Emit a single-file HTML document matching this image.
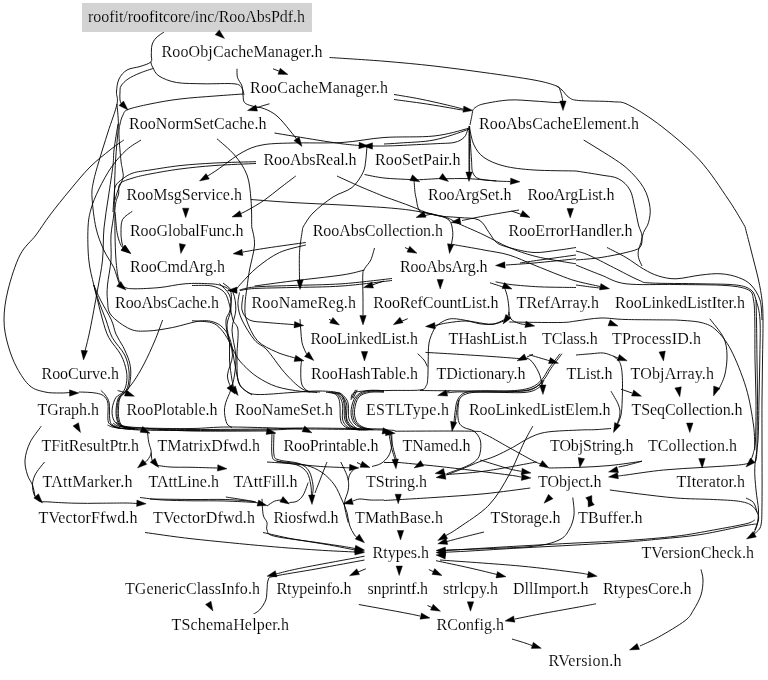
<!DOCTYPE html>
<html><head><meta charset="utf-8"><title>RooAbsPdf.h include graph</title>
<style>html,body{margin:0;padding:0;background:#fff}svg{display:block;will-change:transform}text{font-family:"Liberation Serif","DejaVu Serif",serif;font-size:16px;fill:#000;stroke:#fff;stroke-width:0.12px}.e{fill:none;stroke:#000;stroke-width:0.9}.a{fill:#000;stroke:#000;stroke-width:0.4}.n{fill:#fff;stroke:none}</style></head><body>
<svg width="768" height="680" viewBox="0 0 768 680">
<rect x="0" y="0" width="768" height="680" fill="#fff"/>
<g class="e">
<path d="M164.0,32.0C162.7,33.0 158.0,35.8 156.0,38.0C154.0,40.2 152.8,42.2 152.0,45.0C151.2,47.8 151.5,52.2 151.3,55.0C151.1,57.8 152.7,60.1 150.8,62.0C148.9,63.9 144.0,65.2 140.0,66.5C136.0,67.8 130.5,67.9 127.0,70.0C123.5,72.1 120.8,75.3 119.0,79.0C117.2,82.7 116.8,87.8 116.5,92.0C116.2,96.2 118.4,97.3 117.0,104.0C115.6,110.7 111.0,122.5 108.0,132.0C105.0,141.5 101.4,152.8 99.0,161.0C96.6,169.2 94.8,175.0 93.6,181.0C92.4,187.0 91.6,189.2 92.0,197.0C92.4,204.8 94.0,219.2 96.0,228.0C98.0,236.8 100.8,243.4 103.8,250.0C106.7,256.6 111.2,262.1 113.8,267.5C116.2,272.9 117.4,279.2 118.8,282.5C120.1,285.8 121.5,286.2 122.0,287.0"/>
<path d="M117.0,104.0C117.2,107.3 118.4,117.7 118.4,124.0C118.4,130.3 117.5,135.8 117.0,142.0C116.5,148.2 115.9,154.5 115.5,161.0C115.1,167.5 115.0,172.5 114.7,181.0C114.5,189.5 114.6,203.0 114.0,212.0C113.4,221.0 111.5,227.0 111.0,235.0C110.5,243.0 111.6,251.7 111.0,260.0C110.4,268.3 108.1,278.3 107.5,285.0C106.9,291.7 106.9,295.0 107.5,300.0C108.1,305.0 107.2,310.2 111.0,315.0C114.8,319.8 123.9,326.3 130.0,329.0C136.1,331.7 140.4,331.2 147.5,331.0C154.6,330.8 163.8,329.2 172.5,327.5C181.2,325.8 192.9,321.8 200.0,321.0C207.1,320.2 210.8,321.0 215.0,322.5C219.2,324.0 222.3,326.7 225.0,330.0C227.7,333.3 229.3,336.7 231.0,342.5C232.7,348.3 233.5,357.9 235.0,365.0C236.5,372.1 237.2,380.0 240.0,385.0C242.8,390.0 250.0,393.3 252.0,395.0"/>
<path d="M153.6,68.3C151.3,69.1 144.3,71.2 140.0,73.0C135.7,74.8 131.2,76.8 128.0,79.0C124.8,81.2 122.3,83.8 121.0,86.0C119.7,88.2 120.2,89.7 120.0,92.0C119.8,94.3 119.7,97.8 120.0,100.0C120.3,102.2 121.7,104.2 122.0,105.0"/>
<path d="M243.0,94.0C238.3,94.3 225.5,95.2 215.0,96.0C204.5,96.8 190.8,97.7 180.0,99.0C169.2,100.3 158.7,102.2 150.0,104.0C141.3,105.8 132.5,107.7 128.0,109.5C123.5,111.3 124.3,112.6 123.0,115.0C121.7,117.4 120.7,120.5 120.0,124.0C119.3,127.5 118.8,129.8 119.0,136.0C119.2,142.2 120.4,155.3 121.0,161.0C121.6,166.7 122.2,167.2 122.5,170.0C122.8,172.8 123.8,174.7 123.0,178.0C122.2,181.3 119.3,186.3 118.0,190.0C116.7,193.7 115.5,198.3 115.0,200.0"/>
<path d="M118.0,124.0C117.3,128.3 114.8,143.2 114.0,150.0C113.2,156.8 113.9,157.2 113.0,165.0C112.1,172.8 109.9,186.5 108.4,197.0C106.9,207.5 105.0,217.5 104.0,228.0C103.0,238.5 103.6,249.7 102.5,260.0C101.4,270.3 99.6,278.3 97.5,290.0C95.4,301.7 92.2,319.2 90.0,330.0C87.8,340.8 85.0,350.8 84.0,355.0"/>
<path d="M141.0,140.0C138.6,141.7 131.3,145.5 126.4,150.0C121.5,154.5 116.1,160.5 111.5,167.0C106.9,173.5 102.4,182.0 99.0,189.0C95.6,196.0 92.8,202.5 91.0,209.0C89.2,215.5 88.4,219.5 88.0,228.0C87.6,236.5 87.8,250.5 88.8,260.0C89.7,269.5 92.2,278.0 93.8,285.0C95.3,292.0 96.5,296.2 98.0,302.0C99.5,307.8 100.8,314.1 102.6,320.0C104.4,325.9 105.7,331.8 108.8,337.6C111.9,343.4 118.1,349.4 121.0,355.0C123.9,360.6 125.5,366.2 126.4,371.0C127.3,375.8 127.0,380.0 126.4,383.5C125.8,387.0 124.8,389.6 123.0,392.0C121.2,394.4 117.7,394.9 115.9,397.6C114.1,400.3 112.8,404.5 112.3,408.0C111.8,411.5 112.0,415.8 113.2,418.8C114.4,421.8 116.6,424.2 119.4,425.8C122.2,427.4 128.2,428.1 130.0,428.5"/>
<path d="M93.8,285.0C94.6,287.8 97.0,296.2 99.0,302.0C101.0,307.8 103.8,314.1 106.0,320.0C108.2,325.9 109.2,331.8 112.3,337.6C115.4,343.4 121.9,349.4 124.7,355.0C127.5,360.6 128.4,366.0 129.0,371.0C129.6,376.0 128.9,381.5 128.2,385.0C127.5,388.5 126.3,389.9 124.7,392.0C123.1,394.1 119.9,394.9 118.5,397.6C117.1,400.3 116.5,404.5 116.2,408.0C115.9,411.5 115.9,415.8 116.7,418.8C117.5,421.8 118.0,424.1 121.0,425.8C124.0,427.5 132.7,428.5 135.0,429.0"/>
<path d="M93.8,285.0C94.9,287.5 97.6,294.2 100.5,300.0C103.4,305.8 108.8,314.3 111.4,320.0C114.0,325.7 114.0,329.6 115.9,334.0C117.8,338.4 120.8,342.1 123.0,346.5C125.2,350.9 127.7,356.2 129.0,360.6C130.3,365.0 130.8,368.6 130.8,373.0C130.8,377.4 129.9,383.8 129.0,387.0C128.1,390.2 127.0,390.2 125.5,392.0C124.0,393.8 121.2,395.3 120.0,398.0C118.8,400.7 118.7,404.5 118.5,408.0C118.3,411.5 118.2,416.0 119.0,419.0C119.8,422.0 119.8,424.2 123.0,426.0C126.2,427.8 135.5,428.9 138.0,429.5"/>
<path d="M123.8,140.0C121.5,141.7 115.6,145.5 110.0,150.0C104.4,154.5 96.7,160.3 90.0,167.0C83.3,173.7 76.7,182.0 70.0,190.0C63.3,198.0 55.7,207.5 50.0,215.0C44.3,222.5 41.0,228.3 36.0,235.0C31.0,241.7 24.7,245.8 20.0,255.0C15.3,264.2 10.7,279.2 8.0,290.0C5.3,300.8 4.0,310.8 4.0,320.0C4.0,329.2 5.8,337.0 8.0,345.0C10.2,353.0 13.3,361.2 17.0,368.0C20.7,374.8 25.3,382.0 30.0,386.0C34.7,390.0 40.0,390.8 45.0,392.0C50.0,393.2 55.8,392.9 60.0,393.0C64.2,393.1 68.3,392.6 70.0,392.5"/>
<path d="M256.0,161.7C249.2,161.9 227.7,162.3 215.0,163.0C202.3,163.7 190.8,164.4 180.0,165.6C169.2,166.8 157.8,168.8 150.0,170.0C142.2,171.2 137.6,171.5 133.0,173.0C128.4,174.5 125.4,176.8 122.5,179.0C119.6,181.2 116.9,183.0 115.5,186.0C114.1,189.0 114.4,192.7 114.0,197.0C113.6,201.3 113.2,209.5 113.0,212.0"/>
<path d="M256.0,163.5C249.2,163.8 227.7,164.6 215.0,165.5C202.3,166.4 190.8,167.6 180.0,169.0C169.2,170.4 157.8,172.5 150.0,174.0C142.2,175.5 138.0,176.4 133.0,178.0C128.0,179.6 122.4,180.9 120.0,183.6C117.6,186.3 119.3,191.0 118.6,194.0C117.9,197.0 116.7,198.4 116.0,201.5C115.3,204.6 114.8,210.2 114.7,212.5C114.6,214.8 114.9,211.7 115.3,215.0C115.7,218.3 116.2,227.6 117.0,232.4C117.8,237.2 119.2,241.1 120.2,243.7C121.2,246.3 122.5,247.3 123.0,248.0"/>
<path d="M132.3,211.3C130.7,212.7 124.5,215.9 122.6,219.4C120.7,222.9 121.1,228.6 121.0,232.4C120.9,236.2 121.4,239.4 121.8,242.0C122.2,244.6 123.2,247.0 123.5,248.0"/>
<path d="M115.0,212.0C115.0,215.8 114.8,227.0 115.0,235.0C115.2,243.0 115.4,252.5 116.0,260.0C116.6,267.5 117.4,275.5 118.8,280.0C120.1,284.5 121.3,285.5 124.0,287.0C126.7,288.5 129.0,288.7 135.0,288.8C141.0,288.8 151.7,288.3 160.0,287.5C168.3,286.7 176.7,284.4 185.0,283.8C193.3,283.1 203.8,283.4 210.0,283.8C216.2,284.1 219.0,284.5 222.5,286.0C226.0,287.5 229.8,288.5 231.0,292.5C232.2,296.5 230.8,305.4 230.0,310.0C229.2,314.6 226.4,315.8 226.0,320.0C225.6,324.2 226.4,329.2 227.5,335.0C228.6,340.8 232.5,348.3 232.5,355.0C232.5,361.7 227.8,369.5 227.5,375.0C227.2,380.5 230.4,385.8 231.0,388.0"/>
<path d="M162.6,320.0C161.3,323.5 157.8,333.7 154.7,341.0C151.6,348.3 147.5,357.2 144.0,364.0C140.5,370.8 136.7,377.0 133.5,381.7C130.3,386.4 127.0,389.6 124.7,392.3C122.4,395.0 120.8,395.0 119.5,397.6C118.2,400.2 117.5,404.5 117.2,408.0C116.9,411.5 116.9,415.8 117.7,418.8C118.5,421.8 119.1,424.1 122.0,425.8C124.9,427.5 132.8,428.5 135.0,429.0"/>
<path d="M117.6,390.5C118.5,390.8 121.4,391.5 123.0,392.0C124.6,392.5 126.3,393.2 127.0,393.5"/>
<path d="M79.0,392.0C80.4,392.1 84.7,392.1 87.6,392.3C90.5,392.5 93.8,392.6 96.5,393.2C99.2,393.8 101.6,394.2 103.5,395.8C105.4,397.4 107.2,399.2 107.9,403.0C108.6,406.8 107.6,415.3 107.9,418.8C108.2,422.3 108.1,422.5 109.7,424.0C111.3,425.5 114.2,426.8 117.6,427.6C121.0,428.4 127.9,428.8 130.0,429.0"/>
<path d="M100.9,390.5C101.6,391.2 103.9,392.9 105.3,395.0C106.7,397.1 108.5,399.0 109.2,403.0C109.9,407.0 109.2,415.2 109.7,418.8C110.2,422.4 110.3,423.0 112.0,424.5C113.7,426.0 118.7,427.4 120.0,428.0"/>
<path d="M273.0,68.8L280.0,71.5"/>
<path d="M329.5,57.5C338.6,58.1 366.6,59.8 384.0,61.2C401.4,62.7 417.3,64.1 434.0,66.0C450.7,67.9 467.3,70.2 484.0,72.5C500.7,74.8 521.9,77.8 534.0,80.0C546.1,82.2 552.2,84.3 556.5,86.0C560.8,87.7 559.1,88.2 560.0,90.0C560.9,91.8 561.5,95.0 562.0,97.0C562.5,99.0 562.8,101.2 563.0,102.0"/>
<path d="M556.5,86.0C557.4,86.7 559.9,88.1 562.0,90.0C564.1,91.9 566.2,95.8 569.0,97.5C571.8,99.2 571.5,99.8 578.7,100.5C585.9,101.2 603.7,101.0 612.0,101.7C620.3,102.5 620.4,100.8 628.7,105.0C637.0,109.2 650.2,117.5 662.0,126.7C673.8,135.9 688.4,147.8 699.5,160.0C710.6,172.2 721.1,188.9 728.7,200.0C736.3,211.1 742.3,222.2 745.0,226.7"/>
<path d="M237.0,68.8C237.1,70.2 236.7,74.6 237.5,77.5C238.3,80.4 241.1,83.1 242.0,86.0C242.9,88.9 242.6,92.2 243.0,95.0C243.4,97.8 243.0,100.7 244.5,102.5C246.0,104.3 248.7,105.0 252.0,106.0C255.3,107.0 260.3,107.1 264.5,108.8C268.7,110.4 272.8,112.5 277.0,116.0C281.2,119.5 286.0,125.8 289.5,130.0C293.0,134.2 296.6,139.2 298.0,141.0"/>
<path d="M150.8,62.0C151.1,62.9 151.4,65.2 152.8,67.5C154.1,69.8 155.0,73.5 159.0,76.0C163.0,78.5 169.0,81.2 176.5,82.5C184.0,83.8 194.4,83.5 204.0,83.8C213.6,84.0 227.8,83.1 234.0,83.8C240.2,84.4 239.8,85.6 241.5,87.5C243.2,89.4 243.6,93.8 244.0,95.0"/>
<path d="M269.5,103.8C268.2,104.1 264.2,105.3 262.0,106.0C259.8,106.7 257.0,107.7 256.0,108.0"/>
<path d="M274.5,133.0C281.6,134.2 305.8,138.2 317.0,140.0C328.2,141.8 335.0,142.8 342.0,143.8C349.0,144.7 356.2,145.2 359.0,145.5"/>
<path d="M469.0,126.0C468.6,126.5 472.3,127.1 466.5,128.8C460.7,130.4 447.8,134.5 434.0,136.0C420.2,137.5 399.3,136.4 384.0,137.5C368.7,138.6 357.3,141.6 342.0,142.5C326.7,143.4 305.3,142.6 292.0,143.0C278.7,143.4 270.3,143.4 262.0,145.0C253.7,146.6 249.5,148.3 242.0,152.5C234.5,156.7 223.0,165.9 217.0,170.0C211.0,174.1 207.8,175.8 206.0,177.0"/>
<path d="M469.0,127.0C468.6,127.5 472.3,127.8 466.5,130.0C460.7,132.2 445.1,137.8 434.0,140.0C422.9,142.2 408.3,142.3 400.0,143.0C391.7,143.7 386.7,143.8 384.0,144.0"/>
<path d="M469.0,128.0C468.8,128.3 468.6,128.4 467.8,130.0C466.9,131.6 466.3,135.4 464.0,137.5C461.7,139.6 459.0,141.5 454.0,142.5C449.0,143.5 443.0,143.2 434.0,143.8C425.0,144.2 408.3,145.1 400.0,145.5C391.7,145.9 388.7,145.9 384.0,146.0C379.3,146.1 374.0,146.0 372.0,146.0"/>
<path d="M217.0,138.8C219.9,141.5 229.5,149.0 234.5,155.0C239.5,161.0 244.2,167.5 247.0,175.0C249.8,182.5 250.2,191.4 251.0,200.0C251.8,208.6 251.6,222.2 251.7,226.7"/>
<path d="M295.8,176.0C293.1,178.0 285.2,184.0 280.0,188.0C274.8,192.0 269.8,196.3 264.5,200.0C259.2,203.7 252.1,207.7 248.0,210.0C243.9,212.3 241.3,213.3 240.0,214.0"/>
<path d="M337.0,176.0C340.8,177.8 352.2,183.1 360.0,186.5C367.8,189.9 380.0,194.8 384.0,196.5"/>
<path d="M367.0,145.5C366.8,147.9 366.4,155.5 365.8,160.0C365.1,164.5 365.3,167.9 363.0,172.5C360.7,177.1 357.0,183.4 352.0,187.5C347.0,191.6 339.5,192.8 333.0,197.0C326.5,201.2 318.0,208.0 313.0,213.0C308.0,218.0 304.7,224.7 303.0,227.0"/>
<path d="M364.5,174.5C367.8,175.1 376.6,177.2 384.0,178.0C391.4,178.8 404.0,179.2 409.0,179.5C414.0,179.8 408.7,180.2 414.0,180.0C419.3,179.8 435.3,178.7 441.0,178.5C446.7,178.3 443.3,178.7 448.0,178.7C452.7,178.7 460.9,178.3 469.0,178.7C477.1,179.1 489.7,180.5 496.5,181.0C503.3,181.5 507.8,181.4 510.0,181.5"/>
<path d="M414.0,180.0C414.2,182.1 414.6,189.2 415.0,192.5C415.4,195.8 416.1,197.6 416.5,200.0C416.9,202.4 417.1,204.7 417.7,206.7C418.3,208.7 419.6,211.1 420.0,212.0"/>
<path d="M394.0,94.5C398.3,95.2 411.5,97.3 420.0,99.0C428.5,100.7 437.8,102.8 445.0,104.5C452.2,106.2 460.0,108.2 463.0,109.0"/>
<path d="M394.0,99.5C398.3,100.1 411.5,101.8 420.0,103.0C428.5,104.2 438.5,105.9 445.0,107.0C451.5,108.1 456.0,109.0 459.0,109.5C462.0,110.0 462.3,109.9 463.0,110.0"/>
<path d="M472.8,110.0C473.3,109.5 474.1,108.0 476.0,107.0C477.9,106.0 478.5,104.9 484.0,103.8C489.5,102.6 500.7,100.5 509.0,100.0C517.3,99.5 526.5,100.6 534.0,101.0C541.5,101.4 549.2,102.2 554.0,102.5C558.8,102.8 561.5,102.5 563.0,102.5"/>
<path d="M472.8,110.5C472.5,111.7 472.0,115.1 471.5,117.5C471.0,119.9 470.2,123.8 470.0,125.0"/>
<path d="M469.0,126.0C469.0,130.0 469.0,142.3 469.0,150.0C469.0,157.7 469.0,168.3 469.0,172.0"/>
<path d="M469.6,126.0C469.6,130.0 469.6,142.3 469.6,150.0C469.6,157.7 469.6,168.3 469.6,172.0"/>
<path d="M469.5,128.0C469.8,133.3 471.0,152.6 471.5,160.0C472.0,167.4 471.5,169.4 472.8,172.5C474.0,175.6 475.0,177.3 479.0,178.8C483.0,180.2 493.6,180.6 496.5,181.0"/>
<path d="M469.5,128.0C470.2,130.8 471.6,140.1 474.0,145.0C476.4,149.9 479.0,154.0 484.0,157.5C489.0,161.0 495.7,163.9 504.0,166.0C512.3,168.1 522.0,169.2 534.0,170.0C546.0,170.8 569.0,170.8 576.0,171.0"/>
<path d="M583.7,140.0L600.0,150.0"/>
<path d="M384.0,196.5C388.2,198.0 400.7,202.4 409.0,205.5C417.3,208.6 425.7,213.0 434.0,215.0C442.3,217.0 451.5,216.7 459.0,217.5C466.5,218.3 474.0,217.5 479.0,220.0C484.0,222.5 486.1,228.8 489.0,232.5C491.9,236.2 493.2,240.0 496.5,242.5C499.8,245.0 502.8,245.8 509.0,247.5C515.2,249.2 525.7,252.1 534.0,252.5C542.3,252.9 552.0,250.8 559.0,250.0C566.0,249.2 573.2,247.9 576.0,247.5"/>
<path d="M384.0,207.5C388.2,207.9 400.7,208.8 409.0,210.0C417.3,211.2 427.8,213.2 434.0,214.5C440.2,215.8 442.3,216.0 446.5,217.5C450.7,219.0 452.8,220.8 459.0,223.8C465.2,226.7 475.7,231.0 484.0,235.0C492.3,239.0 500.7,244.0 509.0,247.5C517.3,251.0 525.7,253.8 534.0,256.0C542.3,258.2 552.0,259.7 559.0,261.0C566.0,262.3 573.2,263.3 576.0,263.8"/>
<path d="M519.0,210.0C513.2,211.0 493.5,214.2 484.0,216.0C474.5,217.8 465.7,219.8 462.0,220.5"/>
<path d="M511.5,211.0L521.5,214.5"/>
<path d="M420.0,212.0C420.7,212.1 421.7,212.1 424.0,212.5C426.3,212.9 429.8,213.2 434.0,214.5C438.2,215.8 445.9,217.0 449.0,220.0C452.1,223.0 452.3,228.5 452.8,232.5C453.2,236.5 451.7,242.1 451.5,244.0"/>
<path d="M432.0,214.0L425.0,215.5"/>
<path d="M452.8,244.5C458.0,245.4 474.6,248.2 484.0,250.0C493.4,251.8 500.7,252.5 509.0,255.0C517.3,257.5 525.7,261.7 534.0,265.0C542.3,268.3 552.0,272.3 559.0,275.0C566.0,277.7 569.2,279.1 576.0,281.0C582.8,282.9 596.0,285.6 600.0,286.5"/>
<path d="M576.0,258.8C569.0,259.5 545.7,262.0 534.0,263.0C522.3,264.0 510.7,264.7 506.0,265.0"/>
<path d="M576.0,255.0C570.0,255.8 549.3,258.7 540.0,260.0C530.7,261.3 523.3,262.5 520.0,263.0"/>
<path d="M405.0,247.5L409.0,249.5"/>
<path d="M490.0,282.8C491.4,283.2 496.2,284.8 498.4,285.5C500.6,286.2 502.2,286.8 503.0,287.0"/>
<path d="M495.6,281.8C498.2,282.3 503.9,283.8 511.0,284.6C518.1,285.4 530.3,286.4 538.5,286.8C546.7,287.2 553.8,287.2 560.0,287.3C566.2,287.4 573.3,287.5 576.0,287.5"/>
<path d="M504.8,288.2C505.2,289.7 506.8,293.7 507.5,297.3C508.2,300.9 508.9,306.9 509.0,310.0C509.1,313.1 508.2,315.0 508.0,316.0"/>
<path d="M509.0,312.0C509.3,313.2 509.4,317.1 511.0,319.0C512.6,320.9 516.1,322.3 518.4,323.2C520.7,324.1 523.9,324.3 525.0,324.5"/>
<path d="M509.3,322.0C517.8,322.1 548.9,322.7 560.0,322.5C571.1,322.3 569.2,321.8 576.0,321.0C582.8,320.2 592.7,318.2 601.0,318.0C609.3,317.8 613.5,319.2 626.0,319.5C638.5,319.8 667.7,319.9 676.0,320.0"/>
<path d="M507.5,319.0C506.9,319.3 506.2,320.1 503.8,321.0C501.4,321.9 497.0,323.8 493.0,324.3C489.0,324.8 484.6,324.4 480.0,323.8C475.4,323.2 471.1,321.1 465.6,321.0C460.2,320.9 452.4,322.1 447.3,322.9C442.2,323.6 437.1,325.1 435.0,325.5"/>
<path d="M507.5,318.0C505.1,319.0 498.5,323.3 493.0,324.0C487.5,324.7 480.8,322.9 474.7,322.0C468.6,321.1 461.1,319.3 456.5,318.9C451.9,318.5 450.1,318.6 447.0,319.6C443.9,320.6 440.2,323.0 438.0,324.7C435.8,326.4 435.2,326.9 433.7,330.0C432.2,333.1 429.9,337.8 429.0,343.0C428.1,348.2 428.4,354.9 428.2,361.0C428.0,367.1 428.1,375.2 427.7,379.4C427.3,383.6 427.3,384.2 426.0,386.0C424.7,387.8 426.2,389.2 420.0,390.0C413.8,390.8 399.7,390.2 389.0,390.5C378.3,390.8 362.3,390.4 356.0,392.0C349.7,393.6 351.8,398.7 351.0,400.0"/>
<path d="M417.7,353.7C418.8,354.8 422.4,357.9 424.0,360.0C425.6,362.1 426.8,365.5 427.3,366.6"/>
<path d="M425.5,352.4C430.7,352.7 445.2,353.5 456.5,354.2C467.8,354.9 483.0,355.9 493.0,356.6C503.0,357.3 510.5,357.9 516.6,358.4C522.7,358.8 525.8,357.0 529.4,359.3C533.0,361.6 536.4,367.9 538.5,372.0C540.6,376.1 541.4,382.0 542.0,384.0"/>
<path d="M533.0,354.2L527.0,357.0"/>
<path d="M529.4,354.8C532.4,355.7 544.2,359.2 547.6,360.2C551.0,361.2 549.6,360.9 550.0,361.0"/>
<path d="M562.0,353.7C560.2,356.1 554.0,364.1 551.0,368.4C548.0,372.7 547.0,376.0 544.0,379.4C541.0,382.8 538.5,386.4 533.0,388.5C527.5,390.6 520.7,391.2 511.0,391.8C501.3,392.4 483.9,392.0 474.7,392.0C465.5,392.0 460.6,391.8 456.0,392.0C451.4,392.2 448.5,392.8 447.0,393.0"/>
<path d="M560.0,353.7C558.2,356.1 552.0,364.1 549.0,368.4C546.0,372.7 545.0,376.2 542.0,379.4C539.0,382.6 536.2,385.6 531.0,387.5C525.8,389.4 520.4,390.2 511.0,390.8C501.6,391.4 489.9,391.1 474.7,391.0C459.5,390.9 429.1,390.6 420.0,390.5"/>
<path d="M745.0,226.7C746.0,230.6 748.8,241.1 751.0,250.0C753.2,258.9 756.7,271.7 758.5,280.0C760.3,288.3 761.2,293.3 762.0,300.0C762.8,306.7 762.9,310.0 763.0,320.0C763.1,330.0 762.7,346.7 762.5,360.0C762.3,373.3 762.1,386.7 762.0,400.0C761.9,413.3 762.0,422.9 762.0,440.0C762.0,457.1 762.2,488.3 762.0,502.5C761.8,516.7 762.0,520.0 761.0,525.0C760.0,530.0 757.5,530.7 756.0,532.5C754.5,534.3 752.7,535.4 752.0,536.0"/>
<path d="M576.0,171.0C580.2,171.7 593.9,173.7 601.0,175.0C608.1,176.3 613.7,176.2 618.5,178.8C623.3,181.2 627.3,185.2 630.0,190.0C632.7,194.8 633.3,201.7 634.8,207.5C636.2,213.3 637.3,220.2 638.5,225.0C639.7,229.8 641.8,232.2 642.0,236.0C642.2,239.8 642.4,244.8 639.8,247.5C637.1,250.2 632.5,250.8 626.0,252.5C619.5,254.2 609.3,256.2 601.0,257.5C592.7,258.8 580.2,259.6 576.0,260.0"/>
<path d="M600.0,150.0C604.3,152.9 618.8,161.2 626.0,167.5C633.2,173.8 639.5,180.8 643.5,187.5C647.5,194.2 649.2,201.7 650.0,207.5C650.8,213.3 649.6,218.3 648.5,222.5C647.4,226.7 644.8,229.2 643.5,232.5C642.2,235.8 641.8,239.6 641.0,242.5C640.2,245.4 638.9,247.5 638.5,250.0C638.1,252.5 637.9,254.8 638.5,257.5C639.1,260.2 641.4,264.6 642.0,266.0"/>
<path d="M607.0,247.5C610.2,249.2 619.9,253.9 626.0,257.5C632.1,261.1 638.1,265.9 643.5,269.0C648.9,272.1 653.1,274.4 658.5,276.0C663.9,277.6 668.9,278.9 676.0,278.8C683.1,278.6 693.5,275.8 701.0,275.0C708.5,274.2 714.8,273.3 721.0,273.8C727.2,274.2 733.5,275.6 738.5,277.5C743.5,279.4 747.4,281.2 751.0,285.0C754.6,288.8 758.2,294.2 760.0,300.0C761.8,305.8 761.7,316.7 762.0,320.0"/>
<path d="M576.0,251.0C578.1,251.7 582.2,252.2 588.5,255.0C594.8,257.8 605.2,263.3 613.5,267.5C621.8,271.7 632.2,277.4 638.5,280.0C644.8,282.6 640.6,282.4 651.0,283.0C661.4,283.6 686.8,283.4 701.0,283.8C715.2,284.1 727.7,284.0 736.0,285.0C744.3,286.0 747.7,287.5 751.0,290.0C754.3,292.5 754.5,295.0 756.0,300.0C757.5,305.0 759.4,310.0 760.0,320.0C760.6,330.0 759.9,346.7 759.8,360.0C759.6,373.3 759.3,386.7 759.0,400.0C758.7,413.3 758.7,428.8 758.0,440.0C757.3,451.2 755.1,459.2 754.8,467.5C754.4,475.8 755.4,482.9 756.0,490.0C756.6,497.1 758.3,504.2 758.5,510.0C758.7,515.8 757.8,521.0 757.0,525.0C756.2,529.0 754.1,532.3 753.5,533.8"/>
<path d="M576.0,265.0C580.2,266.7 592.7,271.9 601.0,275.0C609.3,278.1 613.5,282.2 626.0,283.8C638.5,285.3 659.3,284.2 676.0,284.5C692.7,284.8 713.9,284.6 726.0,285.5C738.1,286.4 743.9,287.6 748.5,290.0C753.1,292.4 752.5,295.0 753.5,300.0C754.5,305.0 754.5,310.0 754.8,320.0C755.0,330.0 754.8,346.7 755.0,360.0C755.2,373.3 755.9,386.7 756.0,400.0C756.1,413.3 755.9,431.2 755.5,440.0C755.1,448.8 754.2,449.2 753.5,452.5C752.8,455.8 751.4,458.8 751.0,460.0"/>
<path d="M576.0,285.0C578.5,285.3 587.0,286.5 591.0,287.0C595.0,287.5 598.5,287.8 600.0,288.0"/>
<path d="M756.0,300.0C756.1,303.3 756.3,310.0 756.5,320.0C756.7,330.0 756.8,346.7 757.0,360.0C757.2,373.3 757.5,386.7 757.5,400.0C757.5,413.3 757.2,430.0 757.0,440.0C756.8,450.0 757.0,456.2 756.0,460.0C755.0,463.8 753.9,461.7 751.0,462.5C748.1,463.3 746.8,464.2 738.5,465.0C730.2,465.8 713.5,466.7 701.0,467.5C688.5,468.3 676.0,468.8 663.5,470.0C651.0,471.2 633.6,474.0 626.0,475.0C618.4,476.0 619.3,475.8 618.0,476.0"/>
<path d="M676.0,320.0C680.2,320.4 694.3,320.8 701.0,322.5C707.7,324.2 711.0,325.4 716.0,330.0C721.0,334.6 726.0,340.4 731.0,350.0C736.0,359.6 742.2,375.0 746.0,387.5C749.8,400.0 752.0,414.6 753.5,425.0C755.0,435.4 754.5,445.8 754.8,450.0"/>
<path d="M709.8,318.8C712.0,321.9 720.6,331.5 723.5,337.5C726.4,343.5 726.8,348.8 727.0,355.0C727.2,361.2 726.2,369.2 724.8,375.0C723.3,380.8 719.5,387.5 718.5,390.0"/>
<path d="M576.0,355.0C578.5,354.8 586.4,354.1 591.0,353.8C595.6,353.4 599.8,352.6 603.5,353.0C607.2,353.4 610.9,355.3 613.5,356.2C616.1,357.2 618.1,358.1 619.0,358.5"/>
<path d="M613.5,356.2C614.5,357.3 618.3,359.4 619.8,362.5C621.2,365.6 621.8,368.8 622.2,375.0C622.7,381.2 622.5,393.3 622.2,400.0C622.0,406.7 621.8,410.8 621.0,415.0C620.2,419.2 617.9,423.3 617.2,425.0"/>
<path d="M621.0,389.2L632.0,393.0"/>
<path d="M611.0,391.2C612.2,393.5 617.0,401.0 618.5,405.0C620.0,409.0 620.2,411.2 619.8,415.0C619.3,418.8 616.6,425.4 616.0,427.5"/>
<path d="M642.0,461.2C639.7,461.9 631.9,464.0 628.0,465.0C624.1,466.0 620.1,466.7 618.5,467.0"/>
<path d="M609.8,490.0C614.5,490.6 627.5,492.4 638.5,493.8C649.5,495.1 663.5,497.0 676.0,498.0C688.5,499.0 703.1,499.0 713.5,499.5C723.9,500.0 732.2,500.3 738.5,501.2C744.8,502.2 747.9,503.1 751.0,505.0C754.1,506.9 756.0,510.0 757.2,512.5C758.5,515.0 758.9,517.1 758.5,520.0C758.1,522.9 755.4,528.3 754.8,530.0"/>
<path d="M746.0,498.0C747.2,498.8 751.6,500.1 753.5,502.5C755.4,504.9 756.6,510.8 757.2,512.5"/>
<path d="M754.8,520.0C753.3,520.6 752.9,522.1 746.0,523.8C739.1,525.4 725.2,527.9 713.5,530.0C701.8,532.1 690.6,534.5 676.0,536.2C661.4,538.0 642.7,539.4 626.0,540.5C609.3,541.6 593.7,542.1 576.0,543.0C558.3,543.9 537.7,545.0 520.0,546.0C502.3,547.0 483.3,548.2 470.0,549.0C456.7,549.8 445.0,550.7 440.0,551.0"/>
<path d="M757.0,524.0C755.2,524.2 755.3,523.8 746.0,525.5C736.7,527.2 715.3,532.2 701.0,534.5C686.7,536.8 672.5,537.8 660.0,539.0C647.5,540.2 640.0,541.0 626.0,542.0C612.0,543.0 593.7,544.0 576.0,545.0C558.3,546.0 537.7,547.0 520.0,548.0C502.3,549.0 483.3,550.2 470.0,551.0C456.7,551.8 445.0,552.2 440.0,552.5"/>
<path d="M701.0,569.5C701.3,571.2 703.0,575.8 703.0,580.0C703.0,584.2 702.6,590.0 701.0,595.0C699.4,600.0 696.2,605.7 693.5,610.0C690.8,614.3 690.8,616.2 685.0,620.7C679.2,625.2 666.2,632.8 658.7,637.0C651.2,641.2 643.1,644.5 640.0,646.0"/>
<path d="M440.0,560.0C453.3,561.0 497.3,563.9 520.0,566.0C542.7,568.1 564.7,571.1 576.0,572.5C587.3,573.9 586.0,574.2 588.0,574.5"/>
<path d="M596.0,603.8C592.7,604.4 585.3,605.8 576.0,607.5C566.7,609.2 550.2,612.1 540.0,614.0C529.8,615.9 519.2,618.2 515.0,619.0"/>
<path d="M251.7,226.7C252.2,229.8 254.9,237.8 254.5,245.0C254.1,252.2 250.8,262.9 249.5,270.0C248.2,277.1 247.8,281.7 247.0,287.5C246.2,293.3 245.1,299.6 245.0,305.0C244.9,310.4 244.4,314.1 246.5,320.0C248.6,325.9 252.4,335.4 257.4,340.7C262.4,346.0 270.2,349.1 276.5,352.0C282.8,354.9 291.9,357.0 295.0,358.0"/>
<path d="M250.8,199.5C257.6,200.0 276.8,201.6 292.0,202.5C307.2,203.4 326.7,204.2 342.0,205.0C357.3,205.8 377.0,207.1 384.0,207.5"/>
<path d="M303.0,227.0C302.8,227.9 302.6,228.2 302.0,232.5C301.4,236.8 299.9,244.6 299.5,252.5C299.1,260.4 299.5,275.4 299.5,280.0"/>
<path d="M305.8,242.5C299.3,243.4 277.5,246.4 267.0,248.0C256.5,249.6 247.0,251.3 243.0,252.0"/>
<path d="M305.8,245.0C301.4,246.2 287.6,248.8 279.5,252.5C271.4,256.2 263.2,262.5 257.0,267.5C250.8,272.5 245.4,278.9 242.0,282.5C238.6,286.1 237.4,287.9 236.5,289.0"/>
<path d="M392.0,278.5C383.7,279.4 358.7,282.6 342.0,283.8C325.3,284.9 306.6,285.0 292.0,285.5C277.4,286.0 263.2,286.2 254.5,287.0C245.8,287.8 242.0,289.5 239.5,290.0"/>
<path d="M392.0,280.5C383.7,281.4 358.7,284.8 342.0,286.0C325.3,287.2 306.6,287.1 292.0,287.5C277.4,287.9 263.2,288.0 254.5,288.5C245.8,289.0 242.4,290.2 240.0,290.5"/>
<path d="M364.5,270.0C360.8,270.8 354.1,273.2 342.0,275.0C329.9,276.8 306.6,279.2 292.0,281.0C277.4,282.8 260.8,285.2 254.5,286.0"/>
<path d="M374.5,248.0C373.9,250.0 372.4,256.5 370.8,260.0C369.1,263.5 365.8,266.2 364.5,268.8C363.2,271.2 363.0,269.8 362.8,275.0C362.5,280.2 363.0,293.3 363.0,300.0C363.0,306.7 363.0,312.5 363.0,315.0"/>
<path d="M384.0,281.0L372.0,285.0"/>
<path d="M329.0,319.2L333.0,321.5"/>
<path d="M243.2,295.0C243.0,297.5 241.0,305.8 242.0,310.0C243.0,314.2 245.3,317.9 249.5,320.0C253.7,322.1 259.9,321.8 267.0,322.5C274.1,323.2 287.3,324.1 292.0,324.5C296.7,324.9 294.5,324.9 295.0,325.0"/>
<path d="M300.0,319.2C300.1,321.0 300.4,326.1 300.8,330.0C301.1,333.9 301.2,338.8 302.0,342.5C302.8,346.2 304.8,350.4 305.8,352.5C306.8,354.6 307.6,354.6 308.0,355.0"/>
<path d="M219.5,283.8C221.2,285.6 227.6,290.6 229.5,295.0C231.4,299.4 231.2,305.0 230.8,310.0C230.3,315.0 227.2,319.6 227.0,325.0C226.8,330.4 229.1,336.7 229.5,342.5C229.9,348.3 229.1,353.8 229.5,360.0C229.9,366.2 231.2,375.3 232.0,380.0C232.8,384.7 233.7,386.7 234.0,388.0"/>
<path d="M223.0,283.0C224.7,284.6 230.9,288.0 233.0,292.5C235.1,297.0 235.9,303.8 235.8,310.0C235.6,316.2 232.0,322.5 232.0,330.0C232.0,337.5 235.3,347.5 235.8,355.0C236.2,362.5 235.3,369.2 234.5,375.0C233.7,380.8 232.2,385.4 230.8,390.0C229.3,394.6 226.8,398.8 225.8,402.5C224.7,406.2 224.3,409.0 224.5,412.5C224.7,416.0 225.8,421.2 227.0,423.8C228.2,426.2 231.2,426.9 232.0,427.5"/>
<path d="M239.5,292.5C239.2,294.6 237.6,300.4 238.0,305.0C238.4,309.6 239.2,314.2 242.0,320.0C244.8,325.8 250.3,335.0 254.5,340.0C258.7,345.0 262.0,344.6 267.0,350.0C272.0,355.4 278.7,366.0 284.5,372.5C290.3,379.0 296.6,385.4 302.0,388.8C307.4,392.1 314.5,391.9 317.0,392.5"/>
<path d="M192.0,285.5C195.3,285.6 206.6,284.8 212.0,286.0C217.4,287.2 221.6,289.3 224.5,292.5C227.4,295.7 228.1,300.4 229.5,305.0C230.9,309.6 231.6,315.8 233.0,320.0C234.4,324.2 237.3,324.2 238.0,330.0C238.7,335.8 237.0,346.7 237.0,355.0C237.0,363.3 236.8,374.2 238.0,380.0C239.2,385.8 241.3,387.6 244.5,390.0C247.7,392.4 249.1,394.1 257.0,394.5C264.9,394.9 282.0,393.1 292.0,392.5C302.0,391.9 309.5,391.0 317.0,391.0C324.5,391.0 332.6,391.3 337.0,392.5C341.4,393.7 342.1,395.4 343.5,398.0C344.9,400.6 345.1,404.7 345.5,408.0C345.9,411.3 345.4,415.2 346.0,418.0C346.6,420.8 347.0,423.2 349.0,425.0C351.0,426.8 356.5,428.3 358.0,429.0"/>
<path d="M192.0,320.7C195.2,321.0 206.7,321.2 211.5,322.6C216.3,324.0 218.1,326.3 221.0,329.3C223.9,332.3 226.1,336.2 228.7,340.7C231.2,345.1 233.8,351.9 236.3,356.0C238.9,360.1 240.5,362.1 244.0,365.6C247.5,369.1 252.0,373.5 257.4,377.0C262.8,380.5 269.2,384.2 276.5,386.6C283.8,389.0 294.1,390.5 301.3,391.4C308.6,392.3 316.9,391.9 320.0,392.0"/>
<path d="M301.5,361.0C301.4,362.5 300.7,366.0 300.8,370.0C300.8,374.0 300.5,381.2 302.0,385.0C303.5,388.8 308.2,391.2 309.5,392.5"/>
<path d="M326.0,392.3C327.3,392.5 331.9,392.6 334.0,393.5C336.1,394.4 337.5,395.9 338.5,398.0C339.5,400.1 339.7,402.7 340.0,406.0C340.3,409.3 339.9,414.9 340.3,418.0C340.7,421.1 341.1,422.8 342.5,424.5C343.9,426.2 346.1,427.6 349.0,428.5C351.9,429.4 358.2,429.8 360.0,430.0"/>
<path d="M329.1,392.3C330.3,392.6 334.2,392.8 336.1,393.8C338.0,394.8 339.5,396.5 340.6,398.5C341.7,400.5 342.4,402.8 342.7,406.0C343.0,409.2 342.0,414.9 342.4,418.0C342.8,421.1 343.6,422.8 345.0,424.5C346.4,426.2 348.2,427.6 351.1,428.5C354.0,429.4 360.3,429.8 362.1,430.0"/>
<path d="M332.2,392.3C333.2,392.6 336.4,393.0 338.2,394.1C339.9,395.2 341.7,397.0 342.7,399.0C343.7,401.0 343.9,402.8 344.2,406.0C344.5,409.2 343.9,414.9 344.5,418.0C345.1,421.1 346.1,422.8 347.5,424.5C348.9,426.2 350.4,427.6 353.2,428.5C356.0,429.4 362.4,429.8 364.2,430.0"/>
<path d="M335.3,392.3C336.1,392.6 338.7,393.2 340.3,394.4C341.9,395.6 343.7,397.6 344.8,399.5C345.9,401.4 346.6,402.9 346.9,406.0C347.2,409.1 346.1,414.9 346.6,418.0C347.1,421.1 348.6,422.8 350.0,424.5C351.4,426.2 352.6,427.6 355.3,428.5C358.0,429.4 364.5,429.8 366.3,430.0"/>
<path d="M338.4,392.3C339.1,392.7 341.0,393.4 342.4,394.7C343.8,396.0 345.9,398.1 346.9,400.0C347.9,401.9 348.1,403.0 348.4,406.0C348.7,409.0 348.0,414.9 348.7,418.0C349.4,421.1 351.1,422.8 352.5,424.5C353.9,426.2 354.8,427.6 357.4,428.5C360.0,429.4 366.6,429.8 368.4,430.0"/>
<path d="M384.0,390.6C381.0,390.6 370.8,389.7 366.0,390.8C361.2,391.9 358.0,393.9 355.5,397.0C353.0,400.1 351.7,405.5 351.2,409.4C350.7,413.3 351.3,417.4 352.5,420.3C353.7,423.2 355.6,425.0 358.5,426.6C361.4,428.2 368.1,429.3 370.0,429.8"/>
<path d="M384.0,391.4C381.3,391.4 372.2,390.7 367.7,391.6C363.2,392.5 359.7,394.0 357.2,397.0C354.7,400.0 353.4,405.5 352.9,409.4C352.4,413.3 353.0,417.4 354.2,420.3C355.4,423.2 357.3,425.0 360.2,426.6C363.1,428.2 369.8,429.3 371.7,429.8"/>
<path d="M384.0,392.2C381.6,392.2 373.6,391.6 369.4,392.4C365.2,393.2 361.4,394.2 358.9,397.0C356.4,399.8 355.1,405.5 354.6,409.4C354.1,413.3 354.7,417.4 355.9,420.3C357.1,423.2 359.0,425.0 361.9,426.6C364.8,428.2 371.5,429.3 373.4,429.8"/>
<path d="M355.6,389.8L351.7,398.4"/>
<path d="M357.2,389.8L353.0,398.4"/>
<path d="M107.5,425.0C108.8,425.4 109.6,426.7 115.0,427.5C120.4,428.3 127.2,429.5 140.0,430.0C152.8,430.5 170.8,430.5 192.0,430.5C213.2,430.5 248.7,430.2 267.0,430.0C285.3,429.8 282.5,429.0 302.0,429.0C321.5,429.0 368.5,429.7 384.0,430.0C399.5,430.3 393.2,430.8 395.0,431.0"/>
<path d="M110.0,424.0C111.3,424.7 113.0,427.2 118.0,428.0C123.0,428.8 127.7,428.8 140.0,429.0C152.3,429.2 170.8,429.5 192.0,429.5C213.2,429.5 248.7,429.2 267.0,429.0C285.3,428.8 282.5,428.0 302.0,428.0C321.5,428.0 370.3,428.8 384.0,429.0"/>
<path d="M113.0,423.0C114.2,423.6 115.5,425.7 120.0,426.5C124.5,427.3 128.0,427.7 140.0,428.0C152.0,428.3 177.1,428.7 192.0,428.5C206.9,428.3 211.2,427.0 229.5,427.0C247.8,427.0 289.9,428.5 302.0,428.8"/>
<path d="M116.0,422.0C117.2,422.7 117.3,424.9 123.0,426.0C128.7,427.1 138.5,427.7 150.0,428.5C161.5,429.3 172.5,430.6 192.0,431.0C211.5,431.4 254.5,431.0 267.0,431.0"/>
<path d="M147.5,432.0C147.7,433.8 148.1,439.1 148.8,442.5C149.4,445.9 151.5,449.6 151.2,452.5C151.0,455.4 148.9,458.1 147.5,460.0C146.1,461.9 143.8,463.3 143.0,464.0"/>
<path d="M151.2,452.5C151.4,453.8 151.4,457.9 152.0,460.0C152.6,462.1 154.5,464.2 155.0,465.0"/>
<path d="M155.0,465.0C157.5,465.3 163.8,466.6 170.0,467.0C176.2,467.4 184.2,467.1 192.0,467.3C199.8,467.5 212.8,467.9 217.0,468.0"/>
<path d="M41.2,426.2C39.4,429.0 32.7,436.9 30.0,442.5C27.3,448.1 25.4,454.6 25.0,460.0C24.6,465.4 26.2,470.8 27.5,475.0C28.8,479.2 31.2,481.5 32.5,485.0C33.8,488.5 34.6,494.2 35.0,496.0"/>
<path d="M44.5,462.0C42.9,464.2 37.0,470.8 35.0,475.0C33.0,479.2 32.1,483.3 32.5,487.5C32.9,491.7 34.6,497.6 37.5,500.0C40.4,502.4 43.8,501.5 50.0,502.0C56.2,502.5 66.7,503.0 75.0,503.2C83.3,503.5 91.7,503.3 100.0,503.2C108.3,503.2 118.8,503.0 125.0,503.0C131.2,503.0 135.0,503.4 137.0,503.5"/>
<path d="M140.0,497.5C143.8,497.9 153.8,499.5 162.5,500.0C171.2,500.5 181.6,500.6 192.0,500.8C202.4,500.9 214.6,500.7 225.0,501.0C235.4,501.3 248.8,502.1 254.5,502.5C260.2,502.9 258.2,503.3 259.0,503.5"/>
<path d="M150.0,499.0C157.0,499.1 179.4,499.4 192.0,499.5C204.6,499.6 215.3,499.2 225.8,499.5C236.2,499.8 249.7,501.2 254.5,501.5"/>
<path d="M225.8,497.0C229.0,497.5 240.0,499.2 245.0,500.0C250.0,500.8 254.2,501.7 256.0,502.0"/>
<path d="M267.0,506.0C268.2,505.2 272.2,502.2 274.5,501.2C276.8,500.2 279.9,500.2 281.0,500.0"/>
<path d="M289.5,502.5C290.8,502.3 294.7,502.5 297.0,501.2C299.3,500.0 301.4,498.1 303.2,495.0C305.1,491.9 307.4,484.6 308.2,482.5"/>
<path d="M145.0,532.5C152.8,533.5 171.7,536.5 192.0,538.8C212.3,541.0 246.2,544.4 267.0,546.2C287.8,548.1 302.3,549.0 317.0,550.0C331.7,551.0 348.7,551.7 355.0,552.0"/>
<path d="M263.0,532.5C267.8,533.5 280.9,536.7 292.0,538.8C303.1,540.8 319.0,543.1 329.5,545.0C340.0,546.9 350.8,549.2 355.0,550.0"/>
<path d="M262.0,498.8C262.2,501.5 262.4,511.0 263.2,515.0C264.1,519.0 266.4,520.0 267.0,522.5C267.6,525.0 265.8,527.7 267.0,530.0C268.2,532.3 266.2,534.2 274.5,536.2C282.8,538.3 305.8,540.8 317.0,542.5C328.2,544.2 335.7,545.2 342.0,546.2C348.3,547.2 352.8,548.1 355.0,548.5"/>
<path d="M272.0,432.5C272.0,436.2 271.2,450.2 272.0,455.0C272.8,459.8 272.8,459.6 277.0,461.2C281.2,462.9 292.0,463.1 297.0,465.0C302.0,466.9 304.7,469.2 307.0,472.5C309.3,475.8 310.0,481.2 310.8,485.0C311.5,488.8 311.4,493.3 311.5,495.0"/>
<path d="M274.0,432.5C274.0,436.2 273.1,450.4 274.0,455.0C274.9,459.6 275.3,458.6 279.5,460.0C283.7,461.4 294.1,461.7 299.0,463.5C303.9,465.3 306.7,467.4 309.0,471.0C311.3,474.6 312.4,481.0 313.0,485.0C313.6,489.0 312.6,493.3 312.5,495.0"/>
<path d="M267.0,462.0C271.2,462.3 283.7,463.0 292.0,463.8C300.3,464.5 308.7,465.6 317.0,466.2C325.3,466.9 336.5,467.2 342.0,467.5C347.5,467.8 348.7,467.8 350.0,467.8"/>
<path d="M357.0,462.5L362.0,465.0"/>
<path d="M277.0,461.2C281.7,461.9 297.5,463.1 305.0,465.0C312.5,466.9 317.1,469.2 322.0,472.5C326.9,475.8 331.2,480.4 334.5,485.0C337.8,489.6 339.9,495.4 342.0,500.0C344.1,504.6 345.8,508.3 347.0,512.5C348.2,516.7 348.2,521.2 349.5,525.0C350.8,528.8 353.1,532.8 354.5,535.0C355.9,537.2 357.4,537.5 358.0,538.0"/>
<path d="M327.0,462.0C325.8,465.0 322.0,474.8 320.0,480.0C318.0,485.2 315.8,490.8 315.0,493.0"/>
<path d="M340.8,462.0C341.6,463.8 344.5,469.5 345.8,472.5C347.0,475.5 347.8,477.1 348.2,480.0C348.7,482.9 348.9,486.2 348.2,490.0C347.6,493.8 344.9,498.8 344.5,502.5C344.1,506.2 345.1,509.2 345.8,512.5C346.4,515.8 347.8,520.8 348.2,522.5"/>
<path d="M354.5,468.8C353.8,469.6 351.0,472.1 350.0,474.0C349.0,475.9 348.5,479.0 348.2,480.0"/>
<path d="M384.0,500.0C381.7,500.0 374.1,500.2 370.0,500.0C365.9,499.8 362.3,498.8 359.5,499.0C356.7,499.2 354.1,500.7 353.0,501.0"/>
<path d="M450.0,390.5L446.0,392.5"/>
<path d="M544.0,380.0C543.2,381.2 542.3,385.4 539.0,387.5C535.7,389.6 533.2,391.8 524.0,392.5C514.8,393.2 493.6,391.8 484.0,392.0C474.4,392.2 470.7,392.4 466.5,393.8C462.3,395.1 460.7,396.9 459.0,400.0C457.3,403.1 457.1,408.8 456.5,412.5C455.9,416.2 455.5,420.8 455.2,422.5"/>
<path d="M542.0,381.0C541.2,381.9 540.0,384.8 537.0,386.5C534.0,388.2 532.8,390.3 524.0,391.0C515.2,391.7 493.8,390.6 484.0,390.8C474.2,391.1 469.9,391.0 465.5,392.5C461.1,394.0 459.2,396.7 457.5,400.0C455.8,403.3 455.6,408.8 455.0,412.5C454.4,416.2 454.2,420.8 454.0,422.5"/>
<path d="M459.0,400.0C458.8,402.1 457.8,408.8 457.8,412.5C457.8,416.2 458.0,420.0 459.0,422.5C460.0,425.0 461.5,426.0 464.0,427.5C466.5,429.0 471.3,429.2 474.0,431.2C476.7,433.3 479.2,436.5 480.2,440.0C481.3,443.5 480.9,449.2 480.2,452.5C479.6,455.8 478.8,457.7 476.5,460.0C474.2,462.3 471.5,464.0 466.5,466.2C461.5,468.5 449.8,472.5 446.5,473.8"/>
<path d="M542.0,380.0L542.0,386.0"/>
<path d="M395.0,431.2C407.8,431.2 456.7,430.8 471.5,431.2C486.3,431.7 477.8,431.0 484.0,433.8C490.2,436.5 500.7,442.9 509.0,447.5C517.3,452.1 528.7,458.5 534.0,461.2C539.3,464.0 539.8,463.5 541.0,464.0"/>
<path d="M532.8,426.2C531.3,429.0 528.0,434.4 524.0,442.5C520.0,450.6 514.8,464.6 509.0,475.0C503.2,485.4 497.3,496.2 489.0,505.0C480.7,513.8 466.2,522.4 459.0,527.5C451.8,532.6 448.2,534.2 446.0,535.5"/>
<path d="M611.0,428.5C608.3,428.7 600.2,429.4 595.0,429.7C589.8,429.9 587.9,429.6 580.0,430.0C572.1,430.4 555.8,430.8 547.5,432.0C539.2,433.2 535.8,434.9 530.0,437.5C524.2,440.1 518.3,444.4 512.5,447.5C506.7,450.6 500.4,453.9 495.0,456.2C489.6,458.6 485.5,459.4 480.0,461.5C474.5,463.6 467.6,466.8 462.0,469.0C456.4,471.2 449.1,474.0 446.5,475.0"/>
<path d="M480.2,460.0C485.0,461.5 502.2,466.9 509.0,468.8C515.8,470.6 519.0,470.9 521.0,471.3"/>
<path d="M399.0,462.5C404.2,463.0 420.0,464.5 430.0,465.5C440.0,466.5 445.8,467.2 459.0,468.8C472.2,470.3 498.7,473.6 509.0,475.0C519.3,476.4 519.0,476.7 521.0,477.0"/>
<path d="M384.0,462.5L399.0,462.5"/>
<path d="M536.5,462.0C527.8,463.5 499.0,469.2 484.0,471.2C469.0,473.3 452.8,474.0 446.5,474.5"/>
<path d="M549.0,468.0C554.2,467.9 569.8,467.7 580.0,467.3C590.2,466.9 599.7,466.5 610.0,465.5C620.3,464.5 636.7,462.0 642.0,461.2"/>
<path d="M389.0,433.8C389.4,436.0 390.5,443.1 391.5,447.5C392.5,451.9 394.6,457.9 395.2,460.0"/>
<path d="M390.5,433.8C390.9,436.0 392.0,443.1 393.0,447.5C394.0,451.9 395.9,457.9 396.5,460.0"/>
<path d="M391.7,433.3C391.7,435.4 392.2,442.0 391.7,445.8C391.2,449.6 390.3,453.1 388.5,456.0C386.7,458.9 383.8,461.8 381.0,463.5C378.2,465.2 373.5,466.0 372.0,466.5"/>
<path d="M530.2,488.0C522.5,489.0 500.0,492.2 484.0,493.8C468.0,495.3 450.7,496.4 434.0,497.5C417.3,498.6 392.3,500.0 384.0,500.5"/>
<path d="M572.8,497.5C573.0,500.4 574.6,509.6 574.0,515.0C573.4,520.4 571.5,525.8 569.0,530.0C566.5,534.2 564.8,537.3 559.0,540.0C553.2,542.7 546.5,544.8 534.0,546.2C521.5,547.7 498.6,548.1 484.0,548.8C469.4,549.4 452.8,549.8 446.5,550.0"/>
<path d="M484.0,532.0C480.0,533.0 466.2,536.4 460.0,538.0C453.8,539.6 449.2,540.9 447.0,541.5"/>
<path d="M364.5,556.2C356.6,557.7 329.1,562.7 317.0,565.0C304.9,567.3 298.8,568.5 292.0,570.0C285.2,571.5 278.7,573.3 276.0,574.0"/>
<path d="M364.5,560.0C356.6,561.5 332.0,566.0 317.0,568.8C302.0,571.5 282.6,574.4 274.5,576.2C266.4,578.1 269.5,577.7 268.2,580.0C267.0,582.3 267.4,586.7 267.0,590.0C266.6,593.3 267.0,596.7 265.8,600.0C264.5,603.3 262.1,607.3 259.5,610.0C256.9,612.7 251.6,615.0 250.0,616.0"/>
<path d="M365.8,568.8L358.0,572.0"/>
<path d="M428.8,569.5L434.0,572.0"/>
<path d="M436.0,560.7C441.7,561.9 459.8,565.7 470.0,568.0C480.2,570.3 492.5,573.4 497.0,574.5"/>
<path d="M358.8,604.5C365.6,605.8 389.8,610.1 400.0,612.0C410.2,613.9 416.7,615.3 420.0,616.0"/>
<path d="M427.5,605.5L432.0,607.5"/>
<path d="M512.0,639.0C514.2,639.7 521.7,641.9 525.0,643.0C528.3,644.1 530.8,645.1 532.0,645.5"/>
<path d="M407.7,318.7L401.0,321.5"/>
</g>
<g class="n">
<rect x="82" y="3" width="230" height="29" fill="#d3d3d3"/>
<rect x="158.5" y="41.29" width="167.0" height="24"/>
<rect x="247" y="77.08" width="144" height="24"/>
<rect x="126" y="112.87" width="143.5" height="24"/>
<rect x="476" y="112.87" width="166" height="24"/>
<rect x="260.5" y="148.66" width="99.0" height="24"/>
<rect x="372" y="148.66" width="91.5" height="24"/>
<rect x="123.5" y="184.45" width="121.5" height="24"/>
<rect x="425" y="184.45" width="89.5" height="24"/>
<rect x="524.5" y="184.45" width="93.0" height="24"/>
<rect x="127" y="220.24" width="119.5" height="24"/>
<rect x="309.7" y="220.24" width="136.3" height="24"/>
<rect x="505.5" y="220.24" width="130.0" height="24"/>
<rect x="127" y="256.03" width="101" height="24"/>
<rect x="397" y="256.03" width="93.5" height="24"/>
<rect x="112" y="291.82" width="110" height="24"/>
<rect x="248.5" y="291.82" width="110.5" height="24"/>
<rect x="370.3" y="291.82" width="131.2" height="24"/>
<rect x="513.5" y="291.82" width="88.5" height="24"/>
<rect x="612" y="291.82" width="136" height="24"/>
<rect x="307.5" y="327.61" width="113.5" height="24"/>
<rect x="445.5" y="327.61" width="84.5" height="24"/>
<rect x="539" y="327.61" width="61.700000000000045" height="24"/>
<rect x="609" y="327.61" width="95" height="24"/>
<rect x="38.5" y="363.4" width="83.5" height="24"/>
<rect x="308" y="363.4" width="113" height="24"/>
<rect x="433.5" y="363.4" width="95.0" height="24"/>
<rect x="563.5" y="363.4" width="52.0" height="24"/>
<rect x="627.5" y="363.4" width="89.5" height="24"/>
<rect x="34.5" y="399.19" width="67.5" height="24"/>
<rect x="123.5" y="399.19" width="97.0" height="24"/>
<rect x="232" y="399.19" width="104" height="24"/>
<rect x="363" y="399.19" width="89" height="24"/>
<rect x="466" y="399.19" width="147.5" height="24"/>
<rect x="628.5" y="399.19" width="117.0" height="24"/>
<rect x="38.5" y="434.98" width="103.5" height="24"/>
<rect x="154.5" y="434.98" width="108.5" height="24"/>
<rect x="280.5" y="434.98" width="101.0" height="24"/>
<rect x="399.5" y="434.98" width="74.0" height="24"/>
<rect x="547" y="434.98" width="89.5" height="24"/>
<rect x="645" y="434.98" width="95" height="24"/>
<rect x="39.5" y="470.77" width="96.0" height="24"/>
<rect x="145.5" y="470.77" width="76.5" height="24"/>
<rect x="230.5" y="470.77" width="70.0" height="24"/>
<rect x="363" y="470.77" width="67" height="24"/>
<rect x="535" y="470.77" width="69.5" height="24"/>
<rect x="673.5" y="470.77" width="74.5" height="24"/>
<rect x="35.5" y="506.55999999999995" width="105.0" height="24"/>
<rect x="150" y="506.55999999999995" width="108" height="24"/>
<rect x="270.5" y="506.55999999999995" width="71.0" height="24"/>
<rect x="352" y="506.55999999999995" width="94" height="24"/>
<rect x="487.5" y="506.55999999999995" width="76.0" height="24"/>
<rect x="575" y="506.55999999999995" width="70.5" height="24"/>
<rect x="369.5" y="542.35" width="62.5" height="24"/>
<rect x="638.5" y="542.35" width="118.5" height="24"/>
<rect x="122" y="578.14" width="141" height="24"/>
<rect x="273.5" y="578.14" width="81.0" height="24"/>
<rect x="364.5" y="578.14" width="66.5" height="24"/>
<rect x="440" y="578.14" width="61" height="24"/>
<rect x="510" y="578.14" width="81.5" height="24"/>
<rect x="600" y="578.14" width="94.5" height="24"/>
<rect x="168.5" y="613.93" width="123.5" height="24"/>
<rect x="433.5" y="613.93" width="73.5" height="24"/>
<rect x="545.5" y="649.72" width="79.0" height="24"/>
</g>
<g class="a">
<polygon points="215.2,34.8 224.5,38.5 219.3,29.9"/>
<polygon points="116.7,286.3 126.0,290.0 120.8,281.4"/>
<polygon points="119.0,105.5 128.0,110.0 123.5,101.0"/>
<polygon points="81.1,350.3 83.5,360.0 87.5,350.8"/>
<polygon points="69.5,396.2 79.0,393.0 69.5,389.8"/>
<polygon points="121.1,250.6 130.7,253.4 124.8,245.3"/>
<polygon points="121.2,250.1 130.7,253.4 125.2,245.0"/>
<polygon points="182.5,208.2 185.7,217.7 188.9,208.2"/>
<polygon points="179.3,243.6 180.8,253.5 185.6,244.7"/>
<polygon points="226.9,388.1 235.0,394.0 232.2,384.4"/>
<polygon points="278.0,74.3 288.0,74.5 280.2,68.2"/>
<polygon points="559.8,101.0 563.0,110.5 566.2,101.0"/>
<polygon points="293.9,140.6 302.0,146.5 299.2,136.9"/>
<polygon points="255.8,105.0 247.5,110.5 257.5,111.1"/>
<polygon points="358.8,148.7 368.5,146.0 359.2,142.3"/>
<polygon points="206.1,173.5 199.5,181.0 209.3,179.0"/>
<polygon points="372.5,142.8 363.0,146.0 372.5,149.2"/>
<polygon points="239.8,210.7 232.0,217.0 242.0,216.8"/>
<polygon points="409.8,180.6 419.8,181.8 412.5,174.8"/>
<polygon points="438.9,178.7 448.5,181.5 442.6,173.4"/>
<polygon points="510.3,184.4 520.0,181.8 510.7,178.1"/>
<polygon points="462.9,112.3 472.8,110.5 463.8,106.0"/>
<polygon points="465.8,172.0 469.0,181.5 472.2,172.0"/>
<polygon points="459.8,217.7 451.0,222.5 460.9,224.0"/>
<polygon points="520.0,216.4 530.0,217.5 522.7,210.6"/>
<polygon points="567.0,208.5 570.2,218.0 573.5,208.5"/>
<polygon points="447.5,243.7 449.5,253.5 453.8,244.5"/>
<polygon points="423.8,211.2 416.0,217.5 426.0,217.3"/>
<polygon points="599.5,289.9 609.5,288.7 600.9,283.6"/>
<polygon points="504.8,261.8 495.5,265.5 505.2,268.2"/>
<polygon points="407.0,252.1 417.0,253.2 409.7,246.3"/>
<polygon points="437.1,279.5 440.2,289.0 443.4,279.5"/>
<polygon points="502.0,288.4 512.0,289.0 504.4,282.5"/>
<polygon points="505.8,314.4 503.0,324.0 511.1,318.1"/>
<polygon points="524.9,327.5 534.8,326.0 526.0,321.2"/>
<polygon points="713.7,386.0 713.5,396.0 719.8,388.2"/>
<polygon points="608.0,325.8 618.0,326.0 610.2,319.7"/>
<polygon points="434.7,322.5 425.5,326.5 435.2,328.9"/>
<polygon points="539.5,385.1 543.0,394.5 545.9,384.9"/>
<polygon points="524.3,353.9 517.0,360.8 527.0,359.7"/>
<polygon points="548.5,363.6 558.5,363.3 550.4,357.5"/>
<polygon points="446.0,390.0 437.7,395.5 447.7,396.1"/>
<polygon points="753.1,531.5 746.5,539.0 756.3,537.0"/>
<polygon points="750.5,458.0 746.0,467.0 755.0,462.5"/>
<polygon points="617.5,472.5 608.5,477.0 618.4,478.8"/>
<polygon points="659.0,352.0 663.5,361.0 665.3,351.1"/>
<polygon points="674.9,388.0 679.8,396.8 681.3,386.8"/>
<polygon points="686.5,423.0 689.8,432.5 693.0,423.0"/>
<polygon points="698.7,458.6 702.2,468.0 705.1,458.4"/>
<polygon points="578.2,457.6 579.8,467.5 584.6,458.7"/>
<polygon points="617.2,360.5 627.2,360.8 619.4,354.5"/>
<polygon points="614.6,422.5 613.5,432.5 620.4,425.2"/>
<polygon points="631.5,396.0 641.5,396.2 633.7,390.0"/>
<polygon points="616.8,466.5 608.5,472.0 618.5,472.6"/>
<polygon points="585.7,497.7 592.0,505.5 591.8,495.5"/>
<polygon points="594.3,504.8 588.0,497.0 588.2,507.0"/>
<polygon points="637.1,643.5 629.5,650.0 639.5,649.4"/>
<polygon points="587.3,577.8 597.2,576.2 588.5,571.4"/>
<polygon points="513.6,615.9 505.0,621.0 515.0,622.2"/>
<polygon points="294.0,361.4 304.0,360.8 295.7,355.3"/>
<polygon points="296.8,280.0 300.0,289.5 303.2,280.0"/>
<polygon points="242.0,249.3 233.0,253.8 242.9,255.6"/>
<polygon points="236.9,287.0 227.5,290.5 237.1,293.4"/>
<polygon points="359.8,315.5 363.0,325.0 366.2,315.5"/>
<polygon points="371.8,282.0 363.5,287.5 373.5,288.1"/>
<polygon points="329.7,323.0 339.5,325.0 332.9,317.5"/>
<polygon points="294.0,327.9 303.8,325.5 294.6,321.5"/>
<polygon points="304.5,356.5 313.8,360.5 308.8,351.8"/>
<polygon points="230.2,389.6 238.2,395.5 235.4,385.9"/>
<polygon points="361.3,351.5 364.5,361.0 367.7,351.5"/>
<polygon points="266.0,434.4 276.0,433.2 267.4,428.1"/>
<polygon points="302.0,431.7 312.0,432.8 304.7,425.9"/>
<polygon points="385.5,435.7 395.2,433.3 386.1,429.3"/>
<polygon points="382.1,434.0 392.0,432.5 383.2,427.7"/>
<polygon points="140.0,432.2 150.0,433.3 142.7,426.4"/>
<polygon points="124.4,396.0 134.4,396.2 126.6,389.9"/>
<polygon points="73.0,425.9 80.5,432.5 78.5,422.7"/>
<polygon points="142.7,459.4 137.5,468.0 146.8,464.3"/>
<polygon points="150.2,462.3 158.8,467.5 155.1,458.2"/>
<polygon points="217.3,471.1 227.0,468.8 217.8,464.7"/>
<polygon points="33.8,498.1 42.5,503.0 38.5,493.8"/>
<polygon points="136.6,506.4 146.2,503.8 136.9,500.1"/>
<polygon points="257.0,506.1 267.0,505.5 258.7,500.0"/>
<polygon points="279.8,502.0 289.6,504.0 283.0,496.5"/>
<polygon points="354.8,555.0 364.5,552.5 355.2,548.6"/>
<polygon points="354.6,552.8 364.5,551.2 355.7,546.4"/>
<polygon points="354.6,551.5 364.5,550.0 355.7,545.2"/>
<polygon points="308.5,495.1 312.0,504.5 314.9,494.9"/>
<polygon points="349.3,470.7 359.0,468.0 349.7,464.3"/>
<polygon points="360.0,467.3 370.0,467.5 362.2,461.2"/>
<polygon points="355.2,539.1 364.5,542.8 359.3,534.2"/>
<polygon points="351.6,498.2 343.2,503.8 353.3,504.4"/>
<polygon points="450.5,421.3 452.0,431.2 456.8,422.5"/>
<polygon points="443.6,468.4 435.0,473.5 445.0,474.7"/>
<polygon points="539.2,466.0 549.0,468.0 542.4,460.5"/>
<polygon points="444.4,533.0 437.8,540.5 447.6,538.5"/>
<polygon points="445.0,473.0 436.0,477.5 445.9,479.3"/>
<polygon points="521.1,474.5 531.0,473.0 522.2,468.2"/>
<polygon points="521.3,480.4 531.0,478.0 521.8,474.0"/>
<polygon points="420.6,460.5 414.0,468.0 423.8,466.0"/>
<polygon points="392.0,459.6 396.0,468.8 398.4,459.0"/>
<polygon points="395.1,494.2 398.2,503.8 401.4,494.2"/>
<polygon points="397.3,530.5 400.5,540.0 403.7,530.5"/>
<polygon points="548.5,494.3 544.0,503.2 553.0,498.8"/>
<polygon points="445.4,547.0 436.0,550.5 445.6,553.4"/>
<polygon points="446.1,538.2 437.8,543.8 447.8,544.4"/>
<polygon points="445.6,549.6 436.0,552.5 445.4,556.0"/>
<polygon points="445.7,552.6 436.0,555.0 445.2,559.0"/>
<polygon points="275.3,570.7 267.0,576.2 277.0,576.9"/>
<polygon points="356.8,568.8 349.5,575.8 359.5,574.6"/>
<polygon points="396.1,566.0 399.2,575.5 402.4,566.0"/>
<polygon points="432.0,574.4 442.0,575.5 434.7,568.6"/>
<polygon points="496.0,577.9 506.0,576.7 497.4,571.6"/>
<polygon points="420.0,619.2 430.0,618.0 421.4,612.9"/>
<polygon points="430.5,610.1 440.5,611.2 433.2,604.3"/>
<polygon points="467.3,601.8 470.5,611.2 473.7,601.8"/>
<polygon points="531.3,648.4 541.3,648.3 533.3,642.3"/>
<polygon points="205.5,604.4 213.0,611.0 211.0,601.2"/>
<polygon points="399.9,317.2 393.3,324.7 403.1,322.7"/>
</g>
<g>
<text x="88" y="21.5" textLength="217.0" lengthAdjust="spacing">roofit/roofitcore/inc/RooAbsPdf.h</text>
<text x="161.5" y="57.3" textLength="161.0" lengthAdjust="spacing">RooObjCacheManager.h</text>
<text x="250" y="93.1" textLength="138.0" lengthAdjust="spacing">RooCacheManager.h</text>
<text x="129" y="128.9" textLength="137.5" lengthAdjust="spacing">RooNormSetCache.h</text>
<text x="479" y="128.9" textLength="160.0" lengthAdjust="spacing">RooAbsCacheElement.h</text>
<text x="263.5" y="164.7" textLength="93.0" lengthAdjust="spacing">RooAbsReal.h</text>
<text x="375" y="164.7" textLength="85.5" lengthAdjust="spacing">RooSetPair.h</text>
<text x="126.5" y="200.4" textLength="115.5" lengthAdjust="spacing">RooMsgService.h</text>
<text x="428" y="200.4" textLength="83.5" lengthAdjust="spacing">RooArgSet.h</text>
<text x="527.5" y="200.4" textLength="87.0" lengthAdjust="spacing">RooArgList.h</text>
<text x="130" y="236.2" textLength="113.5" lengthAdjust="spacing">RooGlobalFunc.h</text>
<text x="312.7" y="236.2" textLength="130.3" lengthAdjust="spacing">RooAbsCollection.h</text>
<text x="508.5" y="236.2" textLength="124.0" lengthAdjust="spacing">RooErrorHandler.h</text>
<text x="130" y="272.0" textLength="95.0" lengthAdjust="spacing">RooCmdArg.h</text>
<text x="400" y="272.0" textLength="87.5" lengthAdjust="spacing">RooAbsArg.h</text>
<text x="115" y="307.8" textLength="104.0" lengthAdjust="spacing">RooAbsCache.h</text>
<text x="251.5" y="307.8" textLength="104.5" lengthAdjust="spacing">RooNameReg.h</text>
<text x="373.3" y="307.8" textLength="125.2" lengthAdjust="spacing">RooRefCountList.h</text>
<text x="516.5" y="307.8" textLength="82.5" lengthAdjust="spacing">TRefArray.h</text>
<text x="615" y="307.8" textLength="130.0" lengthAdjust="spacing">RooLinkedListIter.h</text>
<text x="310.5" y="343.6" textLength="107.5" lengthAdjust="spacing">RooLinkedList.h</text>
<text x="448.5" y="343.6" textLength="78.5" lengthAdjust="spacing">THashList.h</text>
<text x="542" y="343.6" textLength="55.7" lengthAdjust="spacing">TClass.h</text>
<text x="612" y="343.6" textLength="89.0" lengthAdjust="spacing">TProcessID.h</text>
<text x="41.5" y="379.4" textLength="77.5" lengthAdjust="spacing">RooCurve.h</text>
<text x="311" y="379.4" textLength="107.0" lengthAdjust="spacing">RooHashTable.h</text>
<text x="436.5" y="379.4" textLength="89.0" lengthAdjust="spacing">TDictionary.h</text>
<text x="566.5" y="379.4" textLength="46.0" lengthAdjust="spacing">TList.h</text>
<text x="630.5" y="379.4" textLength="83.5" lengthAdjust="spacing">TObjArray.h</text>
<text x="37.5" y="415.2" textLength="61.5" lengthAdjust="spacing">TGraph.h</text>
<text x="126.5" y="415.2" textLength="91.0" lengthAdjust="spacing">RooPlotable.h</text>
<text x="235" y="415.2" textLength="98.0" lengthAdjust="spacing">RooNameSet.h</text>
<text x="366" y="415.2" textLength="83.0" lengthAdjust="spacing">ESTLType.h</text>
<text x="469" y="415.2" textLength="141.5" lengthAdjust="spacing">RooLinkedListElem.h</text>
<text x="631.5" y="415.2" textLength="111.0" lengthAdjust="spacing">TSeqCollection.h</text>
<text x="41.5" y="451.0" textLength="97.5" lengthAdjust="spacing">TFitResultPtr.h</text>
<text x="157.5" y="451.0" textLength="102.5" lengthAdjust="spacing">TMatrixDfwd.h</text>
<text x="283.5" y="451.0" textLength="95.0" lengthAdjust="spacing">RooPrintable.h</text>
<text x="402.5" y="451.0" textLength="68.0" lengthAdjust="spacing">TNamed.h</text>
<text x="550" y="451.0" textLength="83.5" lengthAdjust="spacing">TObjString.h</text>
<text x="648" y="451.0" textLength="89.0" lengthAdjust="spacing">TCollection.h</text>
<text x="42.5" y="486.8" textLength="90.0" lengthAdjust="spacing">TAttMarker.h</text>
<text x="148.5" y="486.8" textLength="70.5" lengthAdjust="spacing">TAttLine.h</text>
<text x="233.5" y="486.8" textLength="64.0" lengthAdjust="spacing">TAttFill.h</text>
<text x="366" y="486.8" textLength="61.0" lengthAdjust="spacing">TString.h</text>
<text x="538" y="486.8" textLength="63.5" lengthAdjust="spacing">TObject.h</text>
<text x="676.5" y="486.8" textLength="68.5" lengthAdjust="spacing">TIterator.h</text>
<text x="38.5" y="522.6" textLength="99.0" lengthAdjust="spacing">TVectorFfwd.h</text>
<text x="153" y="522.6" textLength="102.0" lengthAdjust="spacing">TVectorDfwd.h</text>
<text x="273.5" y="522.6" textLength="65.0" lengthAdjust="spacing">Riosfwd.h</text>
<text x="355" y="522.6" textLength="88.0" lengthAdjust="spacing">TMathBase.h</text>
<text x="490.5" y="522.6" textLength="70.0" lengthAdjust="spacing">TStorage.h</text>
<text x="578" y="522.6" textLength="64.5" lengthAdjust="spacing">TBuffer.h</text>
<text x="372.5" y="558.4" textLength="56.5" lengthAdjust="spacing">Rtypes.h</text>
<text x="641.5" y="558.4" textLength="112.5" lengthAdjust="spacing">TVersionCheck.h</text>
<text x="125" y="594.1" textLength="135.0" lengthAdjust="spacing">TGenericClassInfo.h</text>
<text x="276.5" y="594.1" textLength="75.0" lengthAdjust="spacing">Rtypeinfo.h</text>
<text x="367.5" y="594.1" textLength="60.5" lengthAdjust="spacing">snprintf.h</text>
<text x="443" y="594.1" textLength="55.0" lengthAdjust="spacing">strlcpy.h</text>
<text x="513" y="594.1" textLength="75.5" lengthAdjust="spacing">DllImport.h</text>
<text x="603" y="594.1" textLength="88.5" lengthAdjust="spacing">RtypesCore.h</text>
<text x="171.5" y="629.9" textLength="117.5" lengthAdjust="spacing">TSchemaHelper.h</text>
<text x="436.5" y="629.9" textLength="67.5" lengthAdjust="spacing">RConfig.h</text>
<text x="548.5" y="665.7" textLength="73.0" lengthAdjust="spacing">RVersion.h</text>
</g>
</svg></body></html>
